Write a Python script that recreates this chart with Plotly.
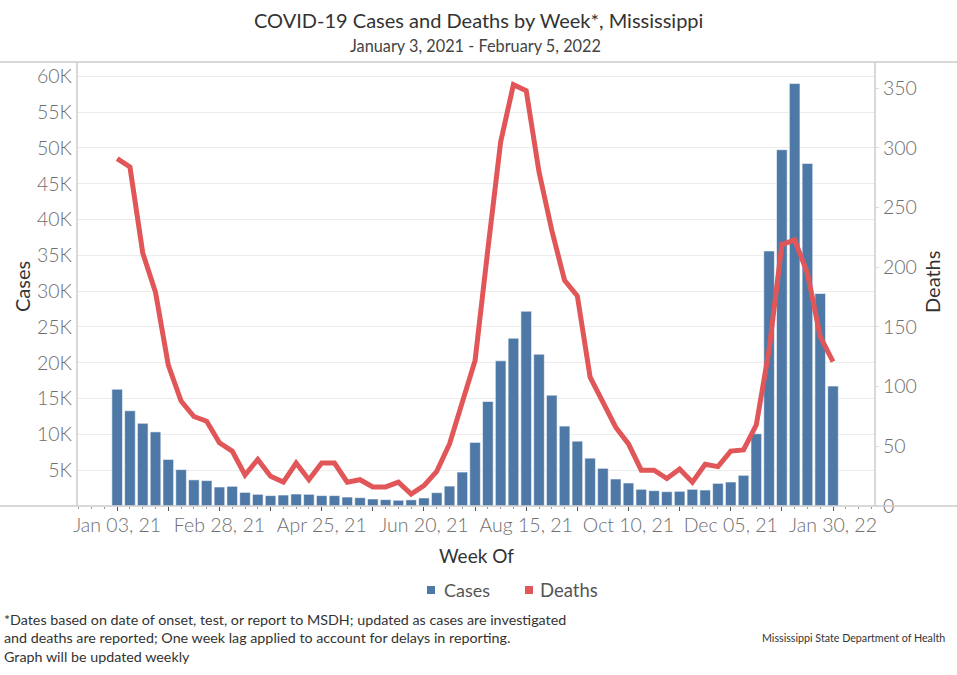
import pandas as pd
import plotly.graph_objects as go

weeks = pd.date_range("2021-01-03", "2022-01-30", freq="7D")

cases = [16300, 13300, 11550, 10350, 6500, 5080, 3650, 3550, 2650, 2750,
         1900, 1630, 1450, 1530, 1670, 1630, 1450, 1450, 1250, 1160,
         980, 890, 800, 860, 1120, 1860, 2780, 4740, 8880, 14600,
         20270, 23430, 27200, 21200, 15480, 11160, 9050, 6680, 5260, 3770,
         3210, 2330, 2140, 2000, 2050, 2330, 2230, 3160, 3350, 4280,
         10090, 35610, 49750, 58990, 47840, 29670, 16740]

deaths = [291, 284, 212, 179, 118, 88, 75, 71, 53, 46,
          26, 39, 25, 20, 36, 22, 36, 36, 20, 22,
          16, 16, 20, 10, 17, 29, 52, 86, 122, 215,
          305, 353, 348, 280, 231, 189, 176, 108, 87, 66,
          52, 30, 30, 23, 31, 20, 35, 33, 46, 47,
          68, 131, 219, 223, 195, 142, 121]

x_tick_dates = pd.date_range("2021-01-03", "2022-01-30", freq="28D")
x_tick_labels = [d.strftime("%b %d, %y") if i % 2 == 0 else "" for i, d in enumerate(x_tick_dates)]

case_ticks = list(range(5000, 60001, 5000))
case_tick_labels = [f"{v // 1000}K" for v in case_ticks]
death_ticks = list(range(0, 351, 50))

BLUE = "#4e79a7"
RED = "#e15759"
FONT = "Lato"

# plot area in page pixels
L, R, T, B = 77, 875, 62, 506
W, H = 957, 675


def px(X, Y):
    return (X - L) / (R - L), (B - Y) / (B - T)


fig = go.Figure()
fig.add_trace(go.Bar(x=weeks, y=cases, name="Cases",
                     marker=dict(color=BLUE, line=dict(color="rgba(255,255,255,0.55)", width=1)),
                     showlegend=False, yaxis="y"))
fig.add_trace(go.Scatter(x=weeks, y=deaths, name="Deaths", mode="lines",
                         line=dict(color=RED, width=5), showlegend=False, yaxis="y2"))

TICKFONT = dict(size=19.5, color="#6e6e6e", family=FONT, weight=300)

fig.update_layout(
    width=W, height=H,
    margin=dict(l=L, r=W - R, t=T, b=H - B, autoexpand=False),
    plot_bgcolor="white", paper_bgcolor="white",
    bargap=0.17,
    showlegend=False,
    font=dict(family=FONT, color="#666666"),
    xaxis=dict(
        type="date", automargin=False,
        range=["2020-12-12", "2022-02-22"],
        tickvals=list(x_tick_dates), ticktext=x_tick_labels,
        ticks="outside", ticklen=4, tickcolor="#555555", tickwidth=1,
        tickfont=TICKFONT, ticklabelstandoff=-2,
        showgrid=False, showline=False, zeroline=False,
        minor=dict(dtick=7 * 24 * 3600 * 1000, tick0="2021-01-03", ticks="outside",
                   ticklen=2, tickcolor="#999999", showgrid=False),
    ),
    yaxis=dict(
        automargin=False,
        range=[0, 62000],
        tickvals=case_ticks, ticktext=case_tick_labels,
        tickfont=TICKFONT,
        showgrid=True, gridcolor="#ececec", gridwidth=1,
        zeroline=False, showline=False, ticks="",
        ticklabelstandoff=4,
    ),
    yaxis2=dict(
        automargin=False,
        overlaying="y", side="right",
        range=[0, 372],
        tickvals=death_ticks,
        tickfont=TICKFONT,
        showgrid=False, zeroline=False, showline=False,
        ticks="outside", ticklen=3, tickcolor="#dddddd",
    ),
)

line_col = "#cccccc"
x_left, _ = px(0, 0)
x_right, _ = px(W, 0)
shapes = [
    dict(type="line", xref="paper", yref="paper", x0=x_left, x1=x_right, y0=1, y1=1, line=dict(color=line_col, width=1.5)),
    dict(type="line", xref="paper", yref="paper", x0=x_left, x1=x_right, y0=0, y1=0, line=dict(color=line_col, width=1.5)),
    dict(type="line", xref="paper", yref="paper", x0=0, x1=0, y0=0, y1=1, line=dict(color=line_col, width=1.5)),
    dict(type="line", xref="paper", yref="paper", x0=1, x1=1, y0=0, y1=1, line=dict(color=line_col, width=1.5)),
]

# legend squares
for cx, col in [(431, BLUE), (529, RED)]:
    x0, y0 = px(cx - 4, 594)
    x1, y1 = px(cx + 4, 586)
    shapes.append(dict(type="rect", xref="paper", yref="paper", x0=x0, x1=x1, y0=y0, y1=y1,
                       line=dict(width=0), fillcolor=col))
fig.update_layout(shapes=shapes)

ann = []


def add(text, X, Y, size, color="#333333", xanchor="center", angle=0):
    xp, yp = px(X, Y)
    ann.append(dict(text=text, xref="paper", yref="paper", x=xp, y=yp, xanchor=xanchor, yanchor="middle",
                    showarrow=False, textangle=angle, font=dict(size=size, color=color, family=FONT)))


add("COVID-19 Cases and Deaths by Week*, Mississippi", 478, 20, 20)
add("January 3, 2021 - February 5, 2022", 475, 46, 16.3, color="#444444")
add("Cases", 22, 287, 20, angle=-90)
add("Deaths", 932, 282, 20, angle=-90)
add("Week Of", 476, 555, 19)
add("Cases", 442, 590, 18, color="#555555", xanchor="left")
add("Deaths", 538, 590, 18.5, color="#555555", xanchor="left")
add("*Dates based on date of onset, test, or report to MSDH; updated as cases are investigated", 2, 619, 14.3, xanchor="left")
add("and deaths are reported; One week lag applied to account for delays in reporting.", 2, 637, 14.3, xanchor="left")
add("Graph will be updated weekly", 2, 656, 14.3, xanchor="left")
add("Mississippi State Department of Health", 947, 637, 10.7, xanchor="right")

fig.update_layout(annotations=ann)

fig.write_html("out.html",
               config={"displayModeBar": False},
               post_script="document.body.style.margin='0px';document.body.style.overflow='hidden';")
